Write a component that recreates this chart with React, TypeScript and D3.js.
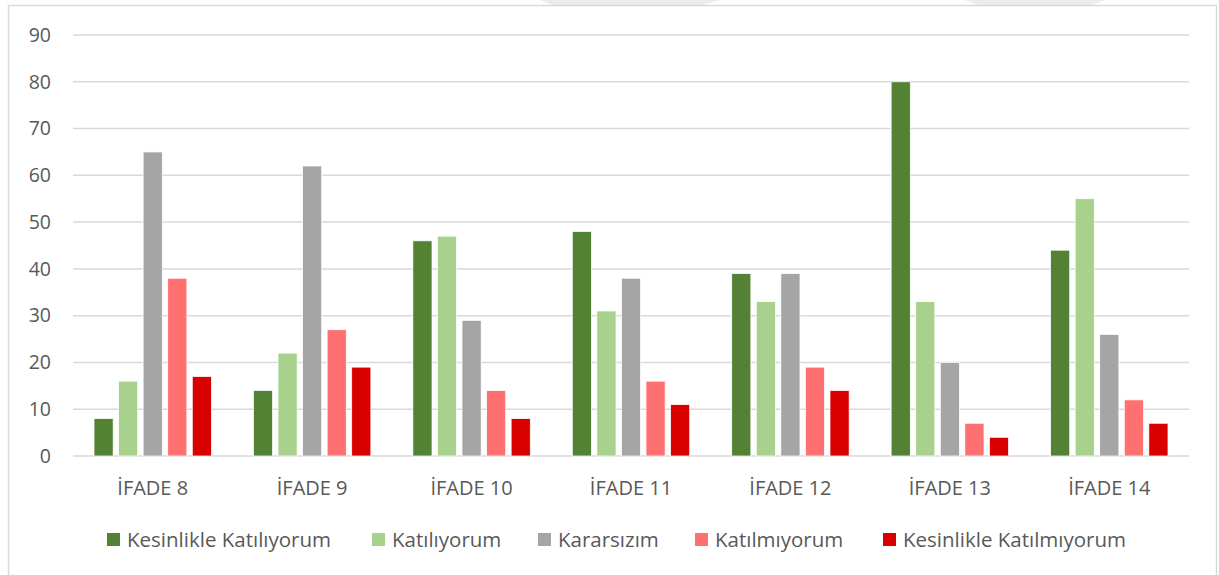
import React from "react";
import * as d3 from "d3";

const categories = ["İFADE 8", "İFADE 9", "İFADE 10", "İFADE 11", "İFADE 12", "İFADE 13", "İFADE 14"];
const seriesNames = ["Kesinlikle Katılıyorum", "Katılıyorum", "Kararsızım", "Katılmıyorum", "Kesinlikle Katılmıyorum"];
const seriesColors = ["#548235", "#A9D18E", "#A5A5A5", "#FF7171", "#D90000"];
const kesinlikleKatiliyorum = [8, 14, 46, 48, 39, 80, 44];
const katiliyorum = [16, 22, 47, 31, 33, 33, 55];
const kararsizim = [65, 62, 29, 38, 39, 20, 26];
const katilmiyorum = [38, 27, 14, 16, 19, 7, 12];
const kesinlikleKatilmiyorum = [17, 19, 8, 11, 14, 4, 7];
const yTicks = [0, 10, 20, 30, 40, 50, 60, 70, 80, 90];
const legendX = [107, 372, 538, 695, 883];

const seriesValues = [kesinlikleKatiliyorum, katiliyorum, kararsizim, katilmiyorum, kesinlikleKatilmiyorum];

export default function App() {
  const W = 1219, H = 575;
  const left = 73, right = 1189, top = 35, bottom = 456;
  const font = "'Open Sans', sans-serif";
  const y = d3.scaleLinear().domain([0, 90]).range([bottom, top]);
  const x0 = d3.scaleBand<string>().domain(categories).range([left, right]).padding(0);
  const x1 = d3.scaleBand<number>().domain(d3.range(seriesNames.length)).range([21, x0.bandwidth() - 21]).paddingInner(0.22);
  return (
    <svg width={W} height={H} style={{ position: "absolute", left: 0, top: 0, background: "#fff" }}>
      <polygon points="540,0 720,0 700,6 555,6" fill="#ececec" />
      <polygon points="965,0 1105,0 1090,6 980,6" fill="#ececec" />
      <rect x={8.5} y={5.5} width={1208} height={580} fill="#fff" stroke="#d9d9d9" strokeWidth={1.5} />
      {yTicks.map((t) => (
        <g key={t}>
          <line x1={left} x2={right} y1={y(t)} y2={y(t)} stroke="#d9d9d9" strokeWidth={1.5} />
          <text x={51} y={y(t)} dy="0.35em" textAnchor="end" fontFamily={font} fontSize={19.5} fill="#595959">{t}</text>
        </g>
      ))}
      {categories.map((c, ci) => (
        <g key={c} transform={`translate(${x0(c)},0)`}>
          {seriesValues.map((vals, si) => (
            <rect key={si} x={x1(si)} y={y(vals[ci])} width={x1.bandwidth()} height={bottom - y(vals[ci])}
              fill={seriesColors[si]} stroke="#fff" strokeWidth={0.75} />
          ))}
          <text x={x0.bandwidth() / 2} y={488} dy="0.35em" textAnchor="middle" fontFamily={font} fontSize={20} fill="#595959">{c}</text>
        </g>
      ))}
      {seriesNames.map((s, i) => (
        <g key={s}>
          <rect x={legendX[i]} y={533} width={13} height={13} fill={seriesColors[i]} />
          <text x={legendX[i] + 20} y={540} dy="0.35em" fontFamily={font} fontSize={20.5} fill="#595959">{s}</text>
        </g>
      ))}
    </svg>
  );
}
